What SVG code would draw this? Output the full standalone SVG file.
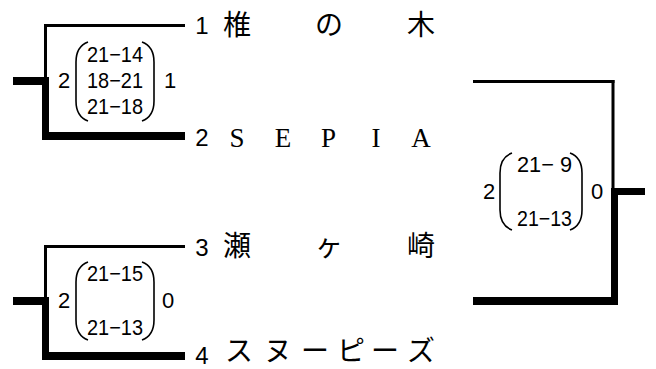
<svg xmlns="http://www.w3.org/2000/svg" width="656" height="369" viewBox="0 0 656 369">
<style>
.ln{fill:#000}
.pr{fill:none;stroke:#000;stroke-width:1.6}
.sc{font-family:"Liberation Sans",Arial,sans-serif;font-size:22px;fill:#000}
.no{font-family:"Liberation Sans",Arial,sans-serif;font-size:24px;fill:#000;text-anchor:middle}
.nm{font-family:"Noto Sans CJK JP",sans-serif;font-size:28px;fill:#000;text-anchor:middle}
.lat{font-family:"Liberation Serif","Times New Roman",serif;font-size:27px;fill:#000;text-anchor:middle}
</style>
<rect width="656" height="369" fill="#fff"/>
<g id="connectors">
<rect class="ln" x="44" y="24" width="141" height="3"/>
<rect class="ln" x="44" y="24" width="3" height="56"/>
<rect class="ln" x="13" y="77" width="36" height="8"/>
<rect class="ln" x="42" y="77" width="7" height="63"/>
<rect class="ln" x="42" y="132" width="143" height="8"/>
<rect class="ln" x="44" y="245" width="141" height="3"/>
<rect class="ln" x="44" y="245" width="3" height="55"/>
<rect class="ln" x="13" y="297" width="36" height="8"/>
<rect class="ln" x="42" y="297" width="7" height="63"/>
<rect class="ln" x="42" y="352" width="143" height="8"/>
<rect class="ln" x="473" y="80" width="141.5" height="3"/>
<rect class="ln" x="611.5" y="80" width="3" height="110"/>
<rect class="ln" x="611" y="188" width="34" height="7"/>
<rect class="ln" x="611" y="188" width="7" height="117"/>
<rect class="ln" x="473" y="297" width="145" height="8"/>
</g>
<g id="team1">
<text class="no" x="202" y="34">1</text>
<text class="nm" x="237 329 421" y="35">椎の木</text>
</g>
<g id="team2">
<text class="no" x="202" y="146">2</text>
<text class="lat" x="237 283 328.5 376 421" y="147">SEPIA</text>
</g>
<g id="team3">
<text class="no" x="202" y="256">3</text>
<text class="nm" x="237 329 421" y="256">瀬ヶ崎</text>
</g>
<g id="team4">
<text class="no" x="202" y="364">4</text>
<text class="nm" x="239 278 315 351 385 421" y="361">スヌーピーズ</text>
</g>
<g id="score1">
<text class="sc" x="64" y="88" text-anchor="middle">2</text>
<path class="pr" d="M88,42 C80,45 76,52 76,62 L76,101 C76,111 80,118 88,121"/>
<text class="sc" x="115" y="62" text-anchor="middle" textLength="56" lengthAdjust="spacingAndGlyphs">21−14</text>
<text class="sc" x="115" y="88" text-anchor="middle" textLength="56" lengthAdjust="spacingAndGlyphs">18−21</text>
<text class="sc" x="115" y="114" text-anchor="middle" textLength="56" lengthAdjust="spacingAndGlyphs">21−18</text>
<path class="pr" d="M142,42 C150,45 154,52 154,62 L154,101 C154,111 150,118 142,121"/>
<text class="sc" x="170" y="88" text-anchor="middle">1</text>
</g>
<g id="score2">
<text class="sc" x="64" y="308" text-anchor="middle">2</text>
<path class="pr" d="M88,262 C80,265 76,272 76,282 L76,320 C76,330 80,337 88,340"/>
<text class="sc" x="115" y="281" text-anchor="middle" textLength="56" lengthAdjust="spacingAndGlyphs">21−15</text>
<text class="sc" x="115" y="335" text-anchor="middle" textLength="56" lengthAdjust="spacingAndGlyphs">21−13</text>
<path class="pr" d="M142,262 C150,265 154,272 154,282 L154,320 C154,330 150,337 142,340"/>
<text class="sc" x="168" y="308" text-anchor="middle">0</text>
</g>
<g id="score3">
<text class="sc" x="489" y="199" text-anchor="middle">2</text>
<path class="pr" d="M512,153 C504,156 500,163 500,173 L500,210 C500,220 504,227 512,230"/>
<text class="sc" x="544.5" y="172" text-anchor="middle" textLength="55" lengthAdjust="spacingAndGlyphs">21− 9</text>
<text class="sc" x="544.5" y="226" text-anchor="middle" textLength="55" lengthAdjust="spacingAndGlyphs">21−13</text>
<path class="pr" d="M570,153 C578,156 582,163 582,173 L582,210 C582,220 578,227 570,230"/>
<text class="sc" x="597" y="199" text-anchor="middle">0</text>
</g>
</svg>
